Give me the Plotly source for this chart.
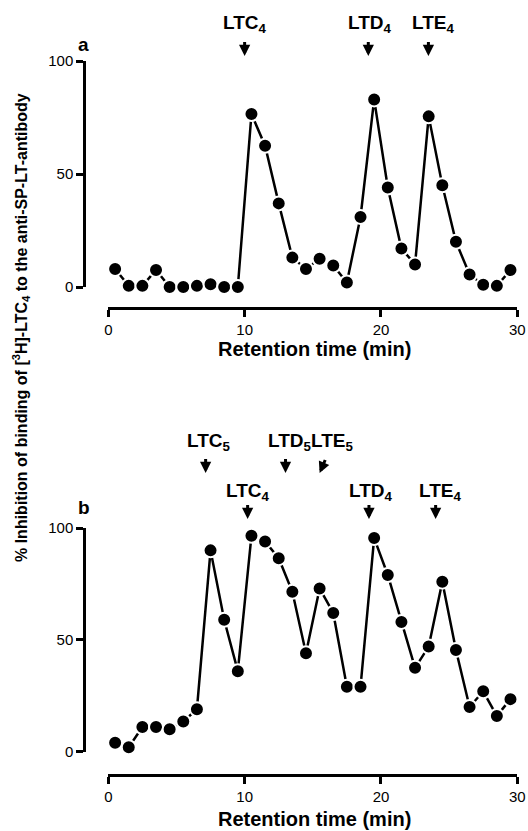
import plotly.graph_objects as go

W, H = 528, 831

# ---- data ----
time_a = [0.5, 1.5, 2.5, 3.5, 4.5, 5.5, 6.5, 7.5, 8.5, 9.5, 10.5, 11.5, 12.5, 13.5, 14.5,
          15.5, 16.5, 17.5, 18.5, 19.5, 20.5, 21.5, 22.5, 23.5, 24.5, 25.5, 26.5, 27.5, 28.5, 29.5]
inhib_a = [8, 0.5, 0.5, 7.5, 0, 0, 0.5, 1.2, 0, 0, 76.5, 62.5, 37, 13, 8, 12.5, 9.5, 2, 31, 83,
           44, 17, 10, 75.5, 45, 20, 5.5, 1, 0.5, 7.5]

time_b = [0.5, 1.5, 2.5, 3.5, 4.5, 5.5, 6.5, 7.5, 8.5, 9.5, 10.5, 11.5, 12.5, 13.5, 14.5,
          15.5, 16.5, 17.5, 18.5, 19.5, 20.5, 21.5, 22.5, 23.5, 24.5, 25.5, 26.5, 27.5, 28.5, 29.5]
inhib_b = [4, 2, 11, 11, 10, 13.5, 19, 90, 59, 36, 96.5, 94, 86.5, 71.5, 44, 73, 62, 29, 29, 95.5,
           79, 58, 37.5, 47, 76, 45.5, 20, 27, 16, 23.5]

x_ticks = [0, 10, 20, 30]
y_ticks = [0, 50, 100]

# labels: (text, label x, arrow x)
labels_a = [("LTC<sub>4</sub>", 10.03, 10.0), ("LTD<sub>4</sub>", 19.2, 19.07), ("LTE<sub>4</sub>", 23.8, 23.48)]
labels_b_top = [("LTC<sub>5</sub>", 7.38, 7.14)]
labels_b_top_pair = ("LTD<sub>5</sub>LTE<sub>5</sub>", 14.84)
arrows_b_top = [13.0]
arrow_b_curved = 15.5
labels_b_low = [("LTC<sub>4</sub>", 10.21, 10.22), ("LTD<sub>4</sub>", 19.25, 19.12), ("LTE<sub>4</sub>", 24.3, 24.01)]

FONT = "Liberation Sans, Arial, sans-serif"


def px(x):
    return x / W


def py(y):
    return 1 - y / H


fig = go.Figure()
marker = dict(size=14, color="black", line=dict(color="white", width=2))
fig.add_trace(go.Scatter(x=time_a, y=inhib_a, mode="lines+markers", xaxis="x", yaxis="y",
                         line=dict(color="black", width=2.5), marker=marker, cliponaxis=False,
                         showlegend=False))
fig.add_trace(go.Scatter(x=time_b, y=inhib_b, mode="lines+markers", xaxis="x2", yaxis="y2",
                         line=dict(color="black", width=2.5), marker=marker, cliponaxis=False,
                         showlegend=False))

xdom = [px(108.3), px(517.3)]
axis_common = dict(showline=True, linecolor="black", linewidth=2.5, ticks="outside", ticklen=7,
                   tickwidth=2.5, tickcolor="black", showgrid=False, zeroline=False,
                   tickfont=dict(family=FONT, size=15, color="black"), automargin=False)

fig.update_layout(
    width=W, height=H, margin=dict(l=0, r=0, t=0, b=0),
    paper_bgcolor="white", plot_bgcolor="white",
    xaxis=dict(domain=xdom, range=[0, 30], anchor="free", position=py(308), tickvals=x_ticks, **axis_common),
    yaxis=dict(domain=[py(287), py(61)], range=[0, 100], anchor="free", position=px(84), tickvals=y_ticks, **axis_common),
    xaxis2=dict(domain=xdom, range=[0, 30], anchor="free", position=py(775), tickvals=x_ticks, **axis_common),
    yaxis2=dict(domain=[py(751.7), py(528)], range=[0, 100], anchor="free", position=px(84), tickvals=y_ticks, **axis_common),
)

ann = []
lab_font = dict(family=FONT, size=19, color="black")


def label(text, x, xref, ycen):
    ann.append(dict(text="<b>" + text + "</b>", x=x, xref=xref, y=py(ycen), yref="paper",
                    showarrow=False, xanchor="center", yanchor="middle", font=lab_font))


def arrow(x, xref, ytip, length=15, dx=0):
    ann.append(dict(text=" ", x=x, xref=xref, y=py(ytip), yref="paper", showarrow=True,
                    ax=dx, ay=-length, axref="pixel", ayref="pixel", arrowhead=2, arrowsize=0.75,
                    arrowwidth=3, arrowcolor="black", font=dict(size=1), borderpad=0,
                    standoff=0, startstandoff=0))


for t, lx, ax_ in labels_a:
    label(t, lx, "x", 24)
    arrow(ax_, "x", 56)

for t, lx, ax_ in labels_b_top:
    label(t, lx, "x2", 442)
    arrow(ax_, "x2", 473)
label(labels_b_top_pair[0], labels_b_top_pair[1], "x2", 442)
for a in arrows_b_top:
    arrow(a, "x2", 473)
arrow(arrow_b_curved, "x2", 473, length=14, dx=6)

for t, lx, ax_ in labels_b_low:
    label(t, lx, "x2", 492)
    arrow(ax_, "x2", 519)

# panel letters
for letter, xc, yc in [("a", 83, 44), ("b", 83.5, 507)]:
    ann.append(dict(text="<b>" + letter + "</b>", x=px(xc), y=py(yc), xref="paper", yref="paper",
                    showarrow=False, xanchor="center", yanchor="middle",
                    font=dict(family=FONT, size=19, color="black")))

# axis titles
title_font = dict(family=FONT, size=20, color="black")
for yc in [349, 819]:
    ann.append(dict(text="<b>Retention time (min)</b>", x=px(314), y=py(yc), xref="paper", yref="paper",
                    showarrow=False, xanchor="center", yanchor="middle", font=title_font))

ann.append(dict(text="<b>% Inhibition of binding of [<sup>3</sup>H]-LTC<sub>4</sub> to the anti-SP-LT-antibody</b>",
                x=px(21), y=py(328), xref="paper", yref="paper", showarrow=False, textangle=-90,
                xanchor="center", yanchor="middle", font=dict(family=FONT, size=16, color="black")))

fig.update_layout(annotations=ann)
fig.write_html("out.html")
